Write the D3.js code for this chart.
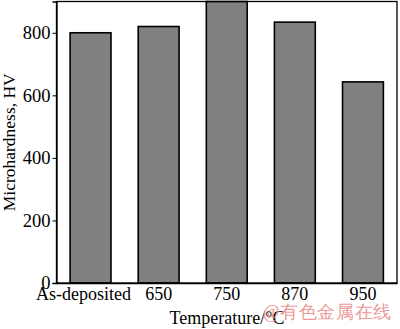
<!DOCTYPE html>
<html>
<head>
<meta charset="utf-8">
<script src="https://cdn.jsdelivr.net/npm/d3@7"></script>
<style>
body { margin: 0; background: #fff; }
text { font-family: "Liberation Serif", "DejaVu Serif", serif; }
</style>
</head>
<body>
<svg id="chart" width="400" height="329"></svg>
<script>
// data
const categories = ['As-deposited', '650', '750', '870', '950'];
const hardness = [800, 820, 900, 834, 643];
const yTicks = [0, 200, 400, 600, 800];

const margin = {left: 56.5, right: 3, top: 1.5, bottom: 46};
const W = 400, H = 329;
const innerW = W - margin.left - margin.right;
const innerH = H - margin.top - margin.bottom;

const svg = d3.select('#chart');
const g = svg.append('g')
	.attr('transform', 'translate(' + margin.left + ',' + margin.top + ')');

const x = d3.scaleBand()
	.domain(categories)
	.range([0, innerW])
	.paddingInner(0.4)
	.paddingOuter(0.2);

const y = d3.scaleLinear()
	.domain([0, 900])
	.range([innerH, 0]);

// bars
g.selectAll('rect.bar')
	.data(categories)
	.enter()
	.append('rect')
	.attr('class', 'bar')
	.attr('x', d => x(d))
	.attr('y', (d, i) => y(hardness[i]))
	.attr('width', x.bandwidth())
	.attr('height', (d, i) => innerH - y(hardness[i]))
	.attr('fill', '#808080')
	.attr('stroke', '#000')
	.attr('stroke-width', 1.6)

// frame
g.append('rect')
	.attr('x', 0)
	.attr('y', 0)
	.attr('width', innerW)
	.attr('height', innerH)
	.attr('fill', 'none')
	.attr('stroke', '#000')
	.attr('stroke-width', 1.3)

// y axis
const yAxis = g.append('g')
	.call(d3.axisLeft(y).tickValues(yTicks).tickSize(4).tickPadding(2).tickFormat(d3.format('d')))
yAxis.select('.domain').attr('stroke-width', 1.3)
yAxis.selectAll('text')
	.attr('font-size', 18.5)
	.attr('fill', '#000')
	.attr('font-family', '"Liberation Serif", serif')

// x axis
const xAxis = g.append('g')
	.attr('transform', 'translate(0,' + innerH + ')')
	.call(d3.axisBottom(x).tickSize(0).tickPadding(4))
xAxis.select('.domain').attr('stroke-width', 1.3)
xAxis.selectAll('text')
	.attr('font-size', 18)
	.attr('fill', '#000')
	.attr('font-family', '"Liberation Serif", serif')
	.attr('dx', d => d === 'As-deposited' ? -7 : 0)

// axis titles
svg.append('text')
	.attr('transform', 'translate(10.5,' + (margin.top + innerH / 2) + ') rotate(-90)')
	.attr('text-anchor', 'middle')
	.attr('dominant-baseline', 'middle')
	.attr('font-size', 17.5)
	.text('Microhardness, HV')

svg.append('text')
	.attr('x', 227)
	.attr('y', 324)
	.attr('text-anchor', 'middle')
	.attr('font-size', 18)
	.text('Temperature/°C')

// watermark
svg.append('text')
	.attr('x', 263)
	.attr('y', 318)
	.attr('font-size', 18)
	.attr('letter-spacing', 0.6)
	.attr('fill', '#ec9a9a')
	.attr('font-family', '"Noto Sans CJK SC", sans-serif')
	.text('@有色金属在线')
</script>
</body>
</html>
